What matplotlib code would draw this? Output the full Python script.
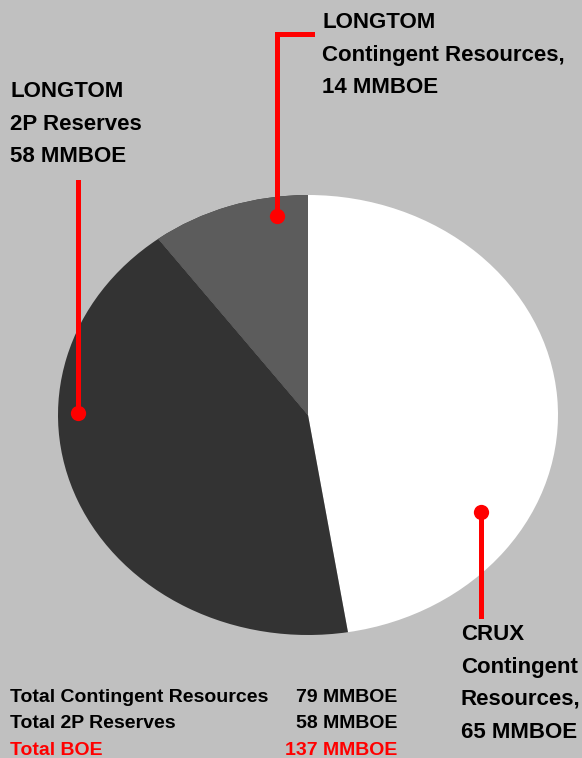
import numpy as np
import matplotlib.pyplot as plt

plt.rcParams['font.family'] = ['Liberation Sans', 'DejaVu Sans']
plt.rcParams['hatch.linewidth'] = 0.5

# pie data (MMBOE)
names = ['CRUX Contingent Resources', 'LONGTOM 2P Reserves', 'LONGTOM Contingent Resources']
values = [65, 58, 14]
colors = ['#ffffff', '#333333', '#3e3e3e']

# summary table
tbl_labels = ['Total Contingent Resources', 'Total 2P Reserves', 'Total BOE']
tbl_values = ['79 MMBOE', '58 MMBOE', '137 MMBOE']
tbl_colors = ['black', 'black', '#ff0000']

W, H = 582, 758
bg = '#c0c0c0'
red = '#ff0000'

fig = plt.figure(figsize=(W/100, H/100), dpi=100, facecolor=bg)

# pie axes = ellipse bounding box
pa = fig.add_axes([58/W, 1-635/H, 500/W, 440/H])
pa.set_facecolor('none')
wedges, _ = pa.pie(values, colors=colors, startangle=90, counterclock=False,
                   wedgeprops=dict(linewidth=0))
wedges[2].set_hatch('+' * 22)
wedges[2].set_edgecolor('#5c5c5c')
pa.set_aspect('auto')
pa.set_xlim(-1, 1)
pa.set_ylim(-1, 1)
pa.axis('off')

# overlay in pixel coords for labels / leaders
ov = fig.add_axes([0, 0, 1, 1])
ov.set_xlim(0, W)
ov.set_ylim(H, 0)
ov.axis('off')
ov.patch.set_alpha(0)

fs = 16
def label(x, y0, lines):
    for i, t in enumerate(lines):
        ov.text(x, y0 + i*32.5, t, fontsize=fs, fontweight='bold', va='baseline', ha='left')

label(322, 28, ['LONGTOM', 'Contingent Resources,', '14 MMBOE'])
label(10, 97, ['LONGTOM', '2P Reserves', '58 MMBOE'])
label(461, 640, ['CRUX', 'Contingent', 'Resources,', '65 MMBOE'])

lw = 3.6
ov.plot([312, 277, 277], [34, 34, 216], color=red, lw=lw, solid_joinstyle='miter')
ov.plot([78, 78], [182, 413], color=red, lw=lw)
ov.plot([481, 481], [512, 616], color=red, lw=lw)
ov.plot([277, 78, 481], [216, 413, 512], 'o', color=red, ms=11, mec='none')

for i in range(3):
    y = 702 + i*26.5
    ov.text(10, y, tbl_labels[i], fontsize=14, fontweight='bold', color=tbl_colors[i], va='baseline')
    ov.text(397, y, tbl_values[i], fontsize=14, fontweight='bold', color=tbl_colors[i], va='baseline', ha='right')

fig.savefig('out.png', dpi=100, facecolor=bg)
